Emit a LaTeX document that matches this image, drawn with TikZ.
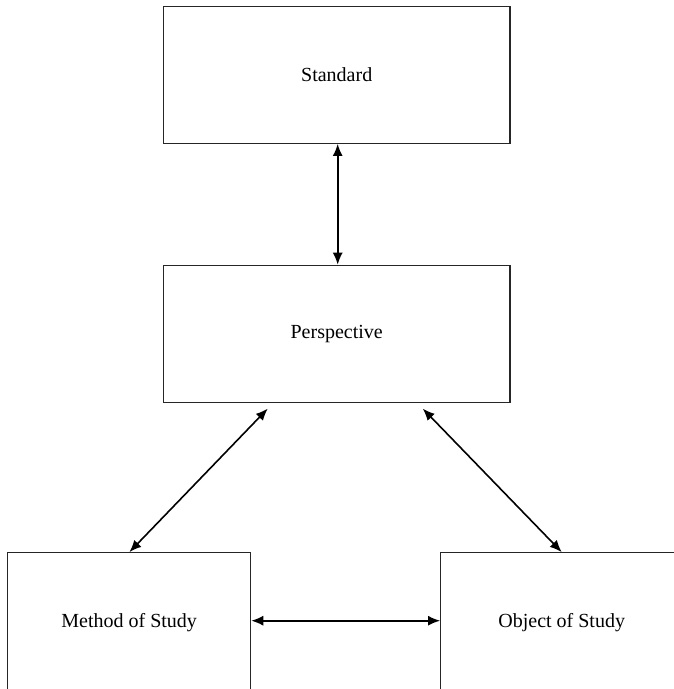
\documentclass[tikz,border=0pt]{standalone}
\usepackage{fontspec}
\setmainfont{Liberation Serif}
\usetikzlibrary{arrows.meta}
\begin{document}
\begin{tikzpicture}[x=1pt,y=-1pt,
  boxnode/.style={draw=black!85, line width=1.2pt, rectangle, inner sep=0pt,
    font=\fontsize{20}{23}\selectfont},
  conn/.style={line width=1.6pt, {Latex[length=12pt,width=10pt]}-{Latex[length=12pt,width=10pt]}}]
\useasboundingbox (0,0) rectangle (674,689);
\clip (0,0) rectangle (674,689);
\node[boxnode, minimum width=346.7pt, minimum height=136.6pt] (std) at (336.7,75) {Standard};
\node[boxnode, minimum width=346.7pt, minimum height=137.4pt] (persp) at (336.7,334) {Perspective};
\node[boxnode, minimum width=242.9pt, minimum height=140pt] (meth) at (129.2,622.7) {Method of Study};
\node[boxnode, minimum width=260pt, minimum height=140pt] (obj) at (570.7,622.7) {\hspace*{-18pt}Object of Study};
\draw[conn] ([xshift=1pt]std.south) -- ([xshift=1pt]persp.north);
\draw[conn] ([xshift=105pt,yshift=-5.3pt]persp.south west) -- ([xshift=122.3pt]meth.north west);
\draw[conn] ([xshift=260pt,yshift=-5.3pt]persp.south west) -- ([xshift=121.6pt]obj.north west);
\draw[conn] ([yshift=2pt]meth.east) -- ([yshift=2pt]obj.west);
\end{tikzpicture}
\end{document}
